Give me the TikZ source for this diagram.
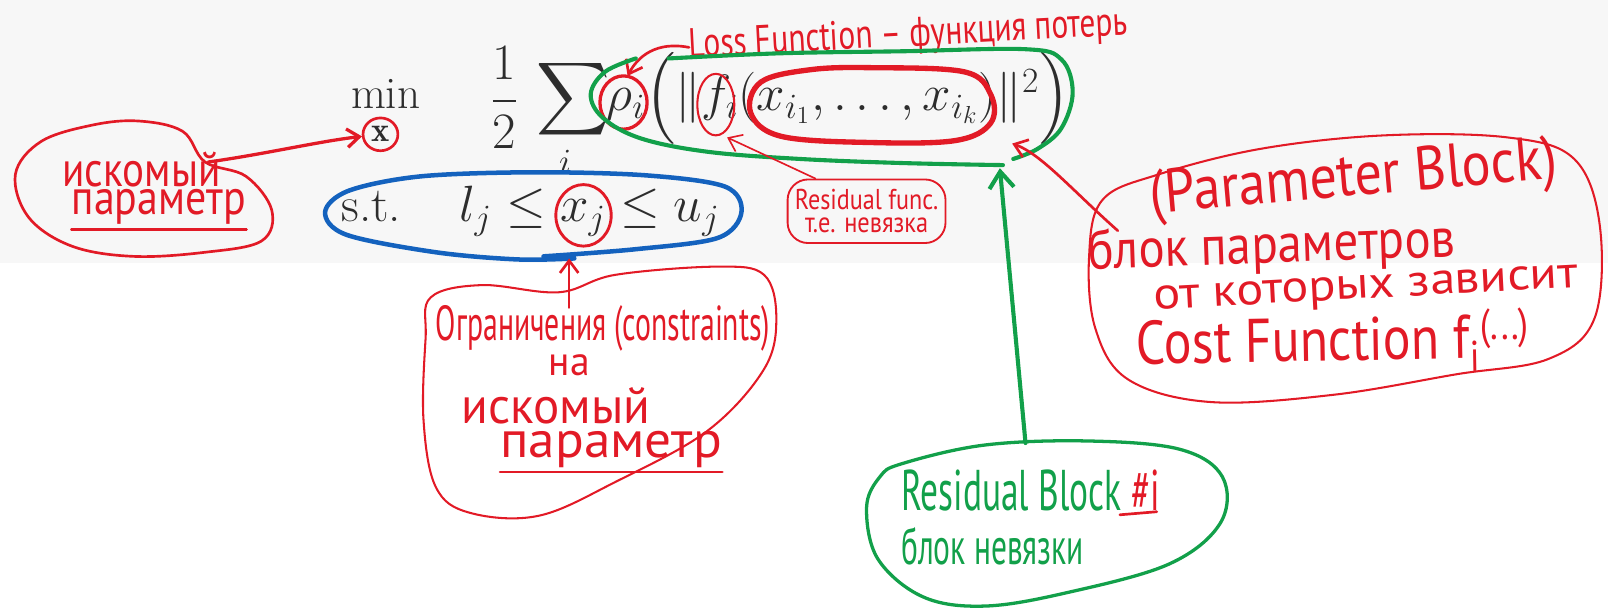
\documentclass[tikz,border=0pt]{standalone}
\usepackage{fontspec}
\usepackage{amsmath}
\usepackage{graphicx}
\newfontfamily\hand{PT Sans}
\usetikzlibrary{arrows.meta}
\definecolor{hred}{RGB}{226,26,38}
\definecolor{hgreen}{RGB}{18,160,74}
\definecolor{hblue}{RGB}{20,98,190}
\definecolor{bggray}{RGB}{247,247,247}
\definecolor{fmcol}{RGB}{45,45,45}
\newcommand\hw[3]{\resizebox{#1pt}{\height}{\fontsize{#2}{#2}\selectfont\hand #3}}
\begin{document}
\begin{tikzpicture}[x=0.5pt,y=-0.5pt,
  fm/.style={font=\fontsize{24}{28}\selectfont, text=fmcol, inner sep=0pt},
  rline/.style={draw=hred, line width=1.3pt, line cap=round, line join=round},
  rthin/.style={draw=hred, line width=1pt, line cap=round, line join=round},
  gline/.style={draw=hgreen, line width=2pt, line cap=round, line join=round},
  bline/.style={draw=hblue, line width=2.2pt, line cap=round, line join=round},
  htext/.style={inner sep=0pt, text=hred},
  rarrow/.style={rline, -{Straight Barb[length=6pt,width=9pt]}},
  garrow/.style={gline, -{Straight Barb[length=8pt,width=12pt]}},
]
\fill[bggray] (0,0) rectangle (1568,256);
\useasboundingbox (0,0) rectangle (1568,592);

% ---------- formula ----------
\node[fm, font=\fontsize{22}{26}\selectfont, anchor=base] (min) at (376,106) {$\min$};
\node[fm] (xb) at (371,131) {$\scriptstyle\mathbf{x}$};
\node[fm, font=\fontsize{25}{30}\selectfont] (frac) at (492,95) {$\displaystyle\frac{1}{2}$};
\node[fm, font=\fontsize{25}{30}\selectfont] (sum) at (559,97) {$\displaystyle\sum$};
\node[fm] (si) at (551,158) {$\scriptstyle i$};
\node[fm, anchor=base west] (obj) at (591,108) {$\rho_i\Big(\|f_i(x_{i_1},\ldots,x_{i_k})\|^2\Big)$};
\node[fm, anchor=base] (st) at (362,216) {s.t.};
\node[fm, anchor=base west] (cons) at (448,216) {$l_j\le x_j\le u_j$};

% ---------- left bubble ----------
\draw[rline] plot[smooth cycle, tension=0.6] coordinates {(15,170) (40,138) (90,122) (135,118) (178,128) (200,158) (240,172) (265,205) (255,235) (200,246) (130,250) (70,240) (28,212)};
\node[htext] (lb1) at (138,165) {\hw{77}{24}{искомый}};
\node[htext] (lb2) at (155,202) {\hw{85}{24}{параметр}};
\draw[rline] ([yshift=-2pt]lb2.south west) -- ([yshift=-2pt]lb2.south east);
\coordinate (lbtip) at (203,158);
\coordinate (xcl) at (353,133);
\draw[rline] (xb.center) ellipse (17 and 16);
\draw[rarrow, line width=1.6pt] (lbtip) .. controls (260,150) and (310,138) .. (xcl);

% ---------- loss function ----------
\node[htext, rotate=3] (loss) at (886,35) {\hw{214}{20}{Loss Function – функция потерь}};
\coordinate (rhotop) at (612,74);
\draw[rarrow] (loss.west) .. controls (640,40) and (622,55) .. (rhotop);
\draw[rline, line width=1.6pt] (608,100) ellipse (23 and 26);
\draw[rthin] (698,102) ellipse (18 and 30);
\draw[rline, line width=2.6pt] plot[smooth cycle, tension=0.6] coordinates {(850,66) (940,70) (966,92) (966,120) (932,137) (850,139) (762,133) (732,110) (742,80) (790,68)};

% ---------- green residual ellipse ----------
\draw[gline] plot[smooth, tension=0.6] coordinates {(652,57) (760,52) (880,50) (1000,48) (1035,58) (1046,90) (1035,125) (1012,145) (988,155)};
\draw[gline] plot[smooth, tension=0.6] coordinates {(978,161) (880,159) (780,155) (690,148) (625,135) (588,115) (576,92) (590,70) (620,57)};

% ---------- residual func box ----------
\node[draw=hred, line width=0.9pt, rounded corners=10pt, minimum width=77pt, minimum height=31pt, inner sep=1pt, align=center, text=hred] (rf) at (845,206) {\hw{70}{14}{Residual func.}\\[-1pt]\hw{60}{14}{т.е. невязка}};
\coordinate (fbot) at (709,134);
\draw[rarrow, line width=0.8pt] ([xshift=14pt]rf.north west) -- (fbot);

% ---------- constraints ----------
\draw[bline] plot[smooth, tension=0.55] coordinates {(530,250) (620,243) (700,232) (723,207) (707,182) (630,171) (520,168) (410,172) (340,186) (317,207) (338,229) (425,246) (505,253) (560,252)};
\draw[rline, line width=1.4pt] (569,210) ellipse (27 and 30);
\draw[rthin] plot[smooth cycle, tension=0.6] coordinates {(420,290) (470,278) (545,285) (600,268) (700,260) (745,268) (757,310) (745,360) (690,420) (600,470) (525,503) (458,500) (425,475) (413,410) (415,330)};
\node[htext] (c1) at (588,320) {\hw{163}{24}{Ограничения (constraints)}};
\node[htext] (c2) at (555,356) {\hw{20}{20}{на}};
\node[htext] (c3) at (542,396) {\hw{92}{25}{искомый}};
\node[htext] (c4) at (596,438) {\hw{108}{25}{параметр}};
\draw[rline] ([yshift=-2pt]c4.south west) -- ([yshift=-2pt]c4.south east);
\coordinate (ctop) at (555,300);
\coordinate (bbot) at (555,252);
\draw[rarrow] (ctop) -- (bbot);

% ---------- residual block ----------
\draw[gline, line width=1.6pt] plot[smooth cycle, tension=0.6] coordinates {(880,452) (960,434) (1060,430) (1150,438) (1192,465) (1190,510) (1140,550) (1040,578) (960,591) (900,582) (856,545) (845,495) (858,465)};
\node[htext, text=hgreen] (rb1) at (1005,478) {\hw{126}{28}{Residual Block \textcolor{hred}{\#i}}};
\draw[rline] (1092,502) -- (1128,499);
\node[htext, text=hgreen] (rb2) at (968,533) {\hw{89}{25}{блок невязки}};
\coordinate (gbot) at (1000,432);
\coordinate (gtop) at (975,164);
\draw[garrow] (gbot) -- (gtop);

% ---------- parameter block ----------
\draw[rthin] plot[smooth cycle, tension=0.6] coordinates {(1075,195) (1130,170) (1230,145) (1350,132) (1470,134) (1535,155) (1560,220) (1555,310) (1510,350) (1420,365) (1300,385) (1180,392) (1100,370) (1068,320) (1062,250)};
\node[htext, rotate=5] (p1) at (1320,176) {\hw{199}{30}{(Parameter Block)}};
\node[htext, rotate=2] (p2) at (1240,242) {\hw{179}{27}{блок параметров}};
\node[htext, rotate=3] (p3) at (1332,284) {\hw{207}{22}{от которых зависит}};
\node[htext, rotate=1] (p4) at (1300,334) {\hw{192}{30}{Cost Function f\textsubscript{i}\textsuperscript{(...)}}};
\coordinate (ptail) at (1090,225);
\coordinate (xkend) at (987,140);
\draw[rarrow] (ptail) .. controls (1045,185) and (1015,150) .. (xkend);
\end{tikzpicture}
\end{document}
